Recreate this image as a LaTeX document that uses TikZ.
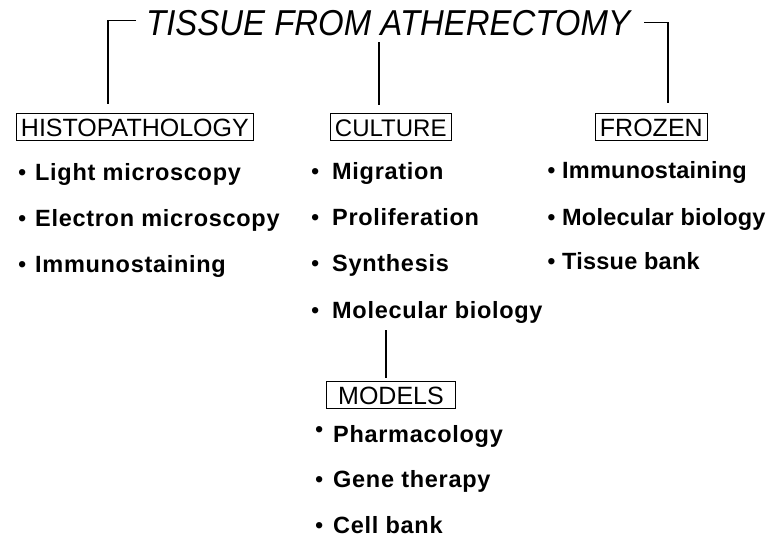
\documentclass[tikz,border=0pt]{standalone}
\usepackage{fontspec}
\setmainfont{Liberation Sans}
\newfontfamily\itemfont{Liberation Sans}[LetterSpace=3]
\newfontfamily\itemfontb{Liberation Sans}[LetterSpace=1]
\newcommand\smbul{{\mdseries\textbullet}}
\newcommand\bul[2]{\llap{\smbul\hspace{#1}}#2}
\begin{document}
\begin{tikzpicture}[x=1pt,y=-1pt,
  conn/.style={line width=1.6pt},
  headbox/.style={draw,line width=0.9pt,inner xsep=4.5pt,inner ysep=4.5pt,
     font=\fontsize{25}{28}\selectfont,text height=18pt,text depth=0pt,anchor=base west},
  itemtext/.style={inner sep=0pt,anchor=base west,font=\itemfont\bfseries\fontsize{23.5}{26}\selectfont},
  itemtextb/.style={inner sep=0pt,anchor=base west,font=\itemfontb\bfseries\fontsize{23.5}{26}\selectfont},
  titletext/.style={inner sep=0pt,anchor=base west,font=\itshape\fontsize{36}{40}\selectfont}]
\useasboundingbox (0,0) rectangle (770,539);
% title
\node[titletext] (title) at (146,35) {\scalebox{0.915}[1]{TISSUE FROM ATHERECTOMY}};
% boxes
\node[headbox] (histo) at (16,136) {HISTOPATHOLOGY};
\node[headbox,font=\fontsize{24}{28}\selectfont] (culture) at (330,136) {CULTURE};
\node[headbox] (frozen) at (595,136) {FROZEN};
\node[headbox,anchor=base,minimum width=129pt] (models) at (391,404) {MODELS};
% connectors
\coordinate (hl) at (108,104);
\coordinate (hr) at (668,103);
\coordinate (ctop) at (379,42);
\coordinate (cbot) at (379,105);
\coordinate (mtop) at (386,330);
\coordinate (mbot) at (386,378);
\draw[conn] ([xshift=-10pt,yshift=2pt]title.west) -| (hl);
\draw[conn] ([xshift=14pt]title.east) -| (hr);
\draw[conn] (ctop) -- (cbot);
\draw[conn] (mtop) -- (mbot);
% histopathology items
\node[itemtext] (h1) at (35,180) {\bul{8.8pt}{Light microscopy}};
\node[itemtext] (h2) at (35,226) {\bul{8.8pt}{Electron microscopy}};
\node[itemtext] (h3) at (35,272) {\bul{8.8pt}{Immunostaining}};
% culture items
\node[itemtext] (c1) at (332,179) {\bul{12.8pt}{Migration}};
\node[itemtext] (c2) at (332,225) {\bul{12.8pt}{Proliferation}};
\node[itemtext] (c3) at (332,271) {\bul{12.8pt}{Synthesis}};
\node[itemtext] (c4) at (332,318) {\bul{12.8pt}{Molecular biology}};
% frozen items
\node[itemtextb] (f1) at (562,178) {\bul{6.5pt}{Immunostaining}};
\node[itemtextb] (f2) at (562,225) {\bul{6.5pt}{Molecular biology}};
\node[itemtextb] (f3) at (562,269) {\bul{6.5pt}{Tissue bank}};
% models items
\node[itemtext] (m1) at (333,442) {\llap{\raisebox{5pt}{\smbul}\hspace{9.8pt}}Pharmacology};
\node[itemtext] (m2) at (333,487) {\bul{9.8pt}{Gene therapy}};
\node[itemtext] (m3) at (333,533) {\bul{9.8pt}{Cell bank}};
\end{tikzpicture}
\end{document}
